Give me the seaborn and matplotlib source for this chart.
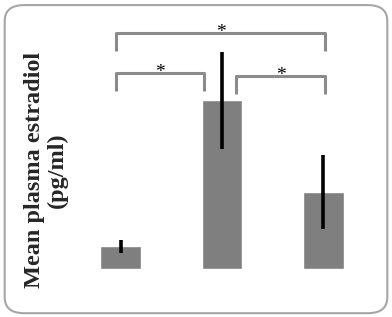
import matplotlib
matplotlib.use("Agg")
import matplotlib.pyplot as plt
import seaborn as sns
import pandas as pd
from matplotlib.patches import FancyBboxPatch

# Datos (unidades)
grupos = ["G1", "G2", "G3"]
medias = [2.3, 16.9, 7.7]
errores = [0.65, 4.85, 3.7]

# Comparaciones significativas: (grupo_a, grupo_b, altura, etiqueta)
comparaciones = [
    (0, 2, 23.6, "*"),
    (0, 1, 19.6, "*"),
    (1, 2, 19.3, "*"),
]

df = pd.DataFrame({"Grupo": grupos, "Media": medias})

sns.set_style("white")
plt.rcParams["font.family"] = ["Liberation Serif", "DejaVu Serif"]

fig = plt.figure(figsize=(3.92, 3.17), dpi=100)
ax = fig.add_axes([0.1786, 0.1514, 0.7755, 0.7855])

sns.barplot(data=df, x="Grupo", y="Media", color="#7f7f7f", saturation=1,
            width=0.4, errorbar=None, ax=ax)
ax.errorbar(range(len(grupos)), medias, yerr=errores, fmt="none",
            ecolor="black", elinewidth=2.6, capsize=0)

# Corchetes de significancia
for a, b, h, lab in comparaciones:
    x0 = a - 0.05
    x1 = b + 0.02 if b == 2 else b - 0.18
    if a == 1:
        x0 = a + 0.14
    ax.plot([x0, x0, x1, x1], [h - 1.8, h, h, h - 1.8], color="#8c8c8c",
            lw=2.2, solid_joinstyle="round", solid_capstyle="butt")
    ax.text((x0 + x1) / 2, h + 0.05, lab, ha="center", va="center",
            fontsize=14, color="black")

ax.set_xlim(-0.5, 2.5)
ax.set_ylim(0, 24.9)
ax.axis("off")

fig.text(46 / 392, 0.4637, "Mean plasma estradiol\n(pg/ml)", rotation=90,
         ha="center", va="center", multialignment="center",
         fontsize=17.5, fontweight="bold", linespacing=1.15)

# Marco redondeado
marco = FancyBboxPatch((0.012, 0.012), 0.976, 0.972,
                       boxstyle="round,pad=0,rounding_size=0.05",
                       transform=fig.transFigure, fill=False,
                       edgecolor="#a6a6a6", linewidth=1.5)
fig.patches.append(marco)

fig.savefig("out.png", dpi=100)
